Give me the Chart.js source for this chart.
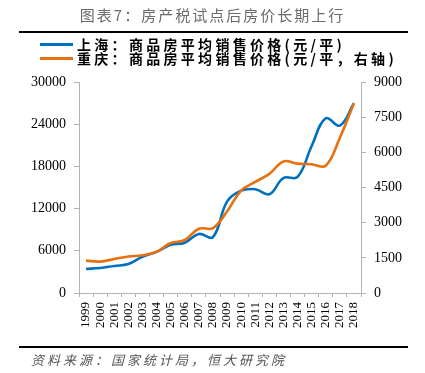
<!DOCTYPE html>
<html>
<head>
<meta charset="utf-8">
<script src="https://cdn.jsdelivr.net/npm/chart.js@4"></script>
<style>
  html, body { margin: 0; padding: 0; background: #fff; }
  #wrap { position: relative; width: 425px; height: 373px; overflow: hidden; }
  #chart { position: absolute; left: 0; top: 0; }
  .title {
    position: absolute; left: 0; width: 425px; top: 5px; text-align: center;
    font-family: "Noto Sans CJK SC"; font-size: 15px; letter-spacing: 2px; color: #6b6b6b;
    line-height: 20px;
  }
  .rule { position: absolute; left: 19px; width: 389px; height: 2px; background: #000; }
  .leg { position: absolute; left: 40px; height: 16px; }
  .leg .sw { position: absolute; left: 0; top: 7px; width: 33px; height: 3px; }
  .leg .tx {
    position: absolute; left: 37px; top: -2px; white-space: nowrap;
    font-family: "Noto Sans CJK SC"; font-weight: bold; font-size: 14px; letter-spacing: 3.3px;
    color: #000; line-height: 20px;
  }
  .src {
    position: absolute; left: 31px; top: 351px; white-space: nowrap;
    font-family: "Noto Sans CJK SC"; font-style: italic; font-size: 13px; letter-spacing: 3px;
    color: #555; line-height: 18px;
  }
</style>
</head>
<body>
<div id="wrap">
  <canvas id="chart" width="425" height="373"></canvas>
  <div class="title">图表7：房产税试点后房价长期上行</div>
  <div class="rule" style="top:31px"></div>
  <div class="leg" style="top:36px"><div class="sw" style="background:#0070C0"></div><div class="tx">上海：商品房平均销售价格(元/平)</div></div>
  <div class="leg" style="top:50px"><div class="sw" style="background:#E8700E"></div><div class="tx">重庆：商品房平均销售价格(元/平，右轴)</div></div>
  <div class="rule" style="top:346px"></div>
  <div class="src">资料来源：国家统计局，恒大研究院</div>
</div>
<script>
// 数据
const years = ["1999", "2000", "2001", "2002", "2003", "2004", "2005", "2006", "2007", "2008",
  "2009", "2010", "2011", "2012", "2013", "2014", "2015", "2016", "2017", "2018"];
const shanghai = [3420, 3560, 3850, 4110, 5150, 5850, 6850, 7150, 8400, 7950,
  13000, 14550, 14750, 14050, 16350, 16500, 20900, 24850, 23800, 26970];
const chongqing = [1380, 1340, 1450, 1560, 1610, 1760, 2130, 2260, 2740, 2770,
  3480, 4370, 4740, 5080, 5610, 5520, 5490, 5430, 6620, 8090];
const leftTicks = [0, 6000, 12000, 18000, 24000, 30000];
const rightTicks = [0, 1500, 3000, 4500, 6000, 7500, 9000];

const axisColor = "#b3b3b3";
const serif = "'Liberation Serif', 'Times New Roman', serif";
const tickFont = { family: serif, size: 14 };

const ctx = document.getElementById("chart").getContext("2d");
new Chart(ctx, {
  type: "line",
  data: {
    labels: years,
    datasets: [
      {
        label: "上海：商品房平均销售价格(元/平)",
        data: shanghai,
        borderColor: "#0070C0",
        backgroundColor: "#0070C0",
        borderWidth: 2.6,
        pointRadius: 0,
        tension: 0.4,
        yAxisID: "y",
        order: 1,
      },
      {
        label: "重庆：商品房平均销售价格(元/平，右轴)",
        data: chongqing,
        borderColor: "#E8700E",
        backgroundColor: "#E8700E",
        borderWidth: 2.6,
        pointRadius: 0,
        tension: 0.4,
        yAxisID: "y1",
        order: 0,
      },
    ],
  },
  options: {
    responsive: false,
    animation: false,
    devicePixelRatio: 1,
    layout: { padding: { top: 82, left: 0, right: 0, bottom: 0 } },
    plugins: {
      legend: { display: false },
      title: { display: false },
      tooltip: { enabled: false },
    },
    scales: {
      x: {
        offset: true,
        grid: { display: true, drawOnChartArea: false, offset: true, tickLength: 4, color: axisColor },
        border: { color: axisColor },
        ticks: {
          autoSkip: false, minRotation: 90, maxRotation: 90, padding: 5,
          color: "#000", font: { family: serif, size: 13 },
        },
        afterFit: (s) => { s.height = 80; },
      },
      y: {
        position: "left",
        min: 0, max: 30000,
        afterBuildTicks: (s) => { s.ticks = leftTicks.map((v) => ({ value: v })); },
        grid: { drawOnChartArea: false, tickLength: 5, color: axisColor },
        border: { color: axisColor },
        ticks: { padding: 8, color: "#000", font: tickFont, callback: (v) => String(v) },
        afterFit: (s) => { s.width = 79; },
      },
      y1: {
        position: "right",
        min: 0, max: 9000,
        afterBuildTicks: (s) => { s.ticks = rightTicks.map((v) => ({ value: v })); },
        grid: { drawOnChartArea: false, tickLength: 5, color: axisColor },
        border: { color: axisColor },
        ticks: { padding: 8, color: "#000", font: tickFont, callback: (v) => String(v) },
        afterFit: (s) => { s.width = 64; },
      },
    },
  },
});
</script>
</body>
</html>
